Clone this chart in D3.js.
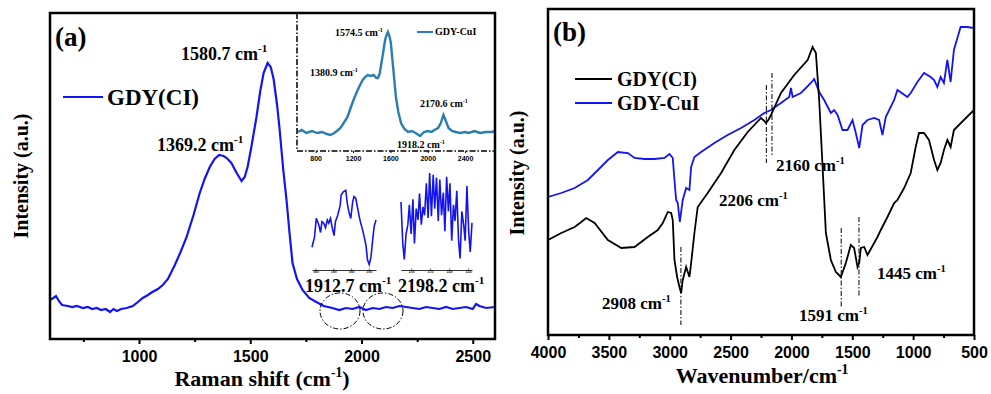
<!DOCTYPE html>
<html>
<head>
<meta charset="utf-8">
<script src="https://cdn.jsdelivr.net/npm/d3@7"></script>
<style>
  body { margin: 0; background: #fff; }
  svg { display: block; font-family: "Liberation Serif", "Times New Roman", serif; font-weight: bold; }
</style>
</head>
<body>
<div id="chart"></div>
<script>
// ---- data ----
// (a) Raman, GDY(CI): [shift, intensity]
const ramanGdyCl = [[600,39],[615,41],[627,43],[640,38],[654,34],[680,33],[700,32],[720,33],[748,31],[770,32],[790,30],[810,31],[830,29],[850,30],[870,27],[885,30],[900,28],[920,30],[945,31],[972,33],[995,37],[1017,41],[1040,44],[1060,47],[1085,50],[1107,54],[1130,60],[1161,74],[1185,86],[1214,102],[1245,124],[1273,146],[1295,160],[1318,172],[1340,180],[1360,184],[1380,183],[1394,181],[1415,176],[1439,166],[1461,158],[1475,162],[1488,172],[1505,192],[1528,222],[1545,248],[1560,266],[1578,276],[1592,272],[1605,260],[1620,235],[1631,212],[1648,170],[1663,139],[1677,105],[1690,76],[1710,60],[1735,49],[1765,41],[1797,37],[1830,33],[1869,31],[1900,29],[1930,31],[1960,30],[1990,32],[2020,29],[2050,31],[2080,30],[2110,32],[2140,31],[2170,33],[2200,32],[2230,31],[2260,30],[2290,32],[2320,31],[2350,30],[2380,32],[2410,30],[2440,31],[2470,32],[2500,30],[2515,35],[2530,33],[2560,31],[2600,32]];
// (a) inset, GDY-CuI
const ramanGdyCuI = [[611,8],[650,10],[700,7],[760,9],[816,7],[870,8],[920,6],[957,5],[1000,7],[1040,10],[1065,12],[1100,17],[1141,23],[1170,31],[1205,40],[1240,48],[1270,54],[1303,60],[1330,63],[1357,65],[1390,64],[1420,65],[1450,62],[1465,62],[1485,66],[1497,73],[1520,86],[1540,98],[1551,103],[1565,106],[1573,108],[1590,104],[1605,97],[1620,82],[1640,62],[1659,43],[1685,28],[1714,17],[1750,11],[1789,8],[1830,9],[1870,7],[1918,4],[1960,8],[2000,9],[2040,8],[2070,10],[2110,12],[2140,17],[2168,25],[2190,20],[2222,12],[2260,9],[2300,8],[2350,7],[2400,8],[2438,7],[2500,9],[2560,7],[2620,8],[2686,8],[2720,9]];
// (a) zoomed pieces round 1912.7 and 2198.2
const zoom1912 = [[1840,24],[1847,37],[1852,61],[1859,53],[1864,43],[1868,57],[1873,55],[1878,49],[1883,59],[1887,55],[1892,61],[1897,49],[1902,39],[1906,57],[1911,63],[1919,77],[1922,91],[1928,95],[1935,97],[1939,81],[1944,69],[1949,61],[1954,81],[1958,89],[1963,87],[1968,75],[1973,63],[1977,55],[1982,47],[1987,37],[1992,26],[1996,8],[2001,2],[2006,12],[2011,35],[2015,51],[2020,59]];
const zoom2198 = [[2060,68],[2067,24],[2073,7],[2080,34],[2087,44],[2093,65],[2100,34],[2107,71],[2113,24],[2120,61],[2127,49],[2133,77],[2140,44],[2147,63],[2153,54],[2160,88],[2167,51],[2173,99],[2180,53],[2187,97],[2193,61],[2200,94],[2207,48],[2213,92],[2220,54],[2227,78],[2233,37],[2240,95],[2247,58],[2253,88],[2260,27],[2267,65],[2273,48],[2280,80],[2287,27],[2293,8],[2300,58],[2307,44],[2313,27],[2320,85],[2327,37],[2333,15],[2340,46]];
// (b) IR: [wavenumber, intensity]
const irGdyCl = [[4000,95],[3891,102],[3781,108],[3727,113],[3686,117],[3617,112],[3508,95],[3398,87],[3289,88],[3180,98],[3098,105],[3057,112],[3016,123],[2988,122],[2975,115],[2961,75],[2939,58],[2920,48],[2906,42],[2893,55],[2865,68],[2838,58],[2824,72],[2797,102],[2770,128],[2688,142],[2578,162],[2469,185],[2359,203],[2250,217],[2223,214],[2209,212],[2190,215],[2168,220],[2086,242],[1977,260],[1867,275],[1826,288],[1799,282],[1772,235],[1744,168],[1717,102],[1676,75],[1635,63],[1594,58],[1553,72],[1512,90],[1485,87],[1457,68],[1443,72],[1430,87],[1402,88],[1375,80],[1293,98],[1266,105],[1211,118],[1156,132],[1129,135],[1074,147],[1020,162],[979,188],[952,202],[911,202],[870,195],[828,175],[801,165],[774,172],[747,185],[719,195],[692,188],[665,205],[583,215],[500,225]];
const irGdyCuI = [[4000,138],[3891,142],[3781,147],[3672,155],[3590,165],[3508,175],[3426,183],[3344,182],[3289,177],[3207,176],[3125,176],[3043,177],[3002,181],[2975,177],[2961,155],[2947,135],[2934,132],[2917,113],[2893,135],[2865,147],[2838,145],[2824,168],[2797,178],[2742,183],[2633,192],[2524,200],[2414,207],[2305,215],[2223,222],[2168,225],[2086,232],[2018,238],[2004,247],[1990,238],[1922,242],[1840,252],[1813,256],[1772,243],[1731,235],[1676,222],[1649,225],[1621,220],[1580,205],[1539,205],[1498,215],[1471,202],[1443,187],[1416,210],[1375,215],[1320,217],[1280,215],[1252,200],[1225,218],[1156,235],[1129,245],[1047,238],[1020,242],[965,253],[911,262],[856,258],[828,255],[801,248],[774,258],[747,252],[719,275],[692,253],[665,285],[610,308],[555,308],[500,307]];
// peak markers in (b): [wavenumber, from, to]
const irMarkers = [[2908,88,10],[2206,250,172],[2160,262,178],[1591,107,27],[1445,118,38]];
const ticksA = [1000, 1500, 2000, 2500];
const minorA = [750, 1250, 1750, 2250];
const ticksInset = [800, 1200, 1600, 2000, 2400];
const ticksZoom1912 = [1850, 1900, 1950, 2000];
const ticksZoom2198 = [2100, 2175, 2250, 2325];
const ticksB = [4000, 3500, 3000, 2500, 2000, 1500, 1000, 500];
const minorB = [3750, 3250, 2750, 2250, 1750, 1250, 750];

const svg = d3.select('#chart').append('svg').attr('width', 991).attr('height', 394);
svg.append('rect').attr('width', 991).attr('height', 394).attr('fill', '#fff');

// text with a "-1" superscript
function label(g, x, y, txt, size, sup, anchor) {
  const t = g.append('text').attr('x', x).attr('y', y).attr('font-size', size)
    .attr('text-anchor', anchor || 'start').text(txt);
  if (sup) {
    t.append('tspan').attr('font-size', size * 0.62).attr('dy', -size * 0.42).text(sup);
  }
  return t;
}

function bottomAxis(g, x, y0, major, minor, fsize) {
  const ax = g.append('g').attr('transform', 'translate(0,' + y0 + ')')
    .call(d3.axisBottom(x).tickValues(major).tickFormat(d3.format('d')).tickSize(5).tickSizeOuter(0).tickPadding(7));
  ax.select('.domain').remove();
  ax.selectAll('line').attr('stroke-width', 2);
  ax.selectAll('text').attr('font-size', fsize).attr('font-family', null).attr('fill', '#000');
  const mi = g.append('g').attr('transform', 'translate(0,' + y0 + ')')
    .call(d3.axisBottom(x).tickValues(minor).tickSize(3).tickFormat(''));
  mi.select('.domain').remove();
  mi.selectAll('line').attr('stroke-width', 2);
}

// ================= panel (a) =================
const a = {l: 50, r: 495, t: 13, b: 339};
const xA = d3.scaleLinear().domain([600, 2600]).range([a.l, a.r]);
const yA = d3.scaleLinear().domain([0, 326]).range([a.b, a.t]);
const ga = svg.append('g');

ga.append('path').datum(ramanGdyCl)
  .attr('d', d3.line().x(d => xA(d[0])).y(d => yA(d[1])))
  .attr('fill', 'none').attr('stroke', '#1414f0').attr('stroke-width', 2.2);

// inset
const xIn = d3.scaleLinear().domain([600, 2720]).range([297, a.r]);
const yIn = d3.scaleLinear().domain([0, 120]).range([140, 20]);
ga.append('path').datum(ramanGdyCuI)
  .attr('d', d3.line().x(d => xIn(d[0])).y(d => yIn(d[1])))
  .attr('fill', 'none').attr('stroke', '#2a7db0').attr('stroke-width', 2.4);
ga.append('line').attr('x1', 297).attr('x2', 297).attr('y1', a.t).attr('y2', 151)
  .attr('stroke', '#000').attr('stroke-width', 1.5).attr('stroke-dasharray', '6,2,1.5,2');
ga.append('line').attr('x1', 297).attr('x2', a.r).attr('y1', 151).attr('y2', 151)
  .attr('stroke', '#000').attr('stroke-width', 1.5).attr('stroke-dasharray', '6,2,1.5,2');
const inAx = ga.append('g').attr('transform', 'translate(0,151)')
  .call(d3.axisBottom(xIn).tickValues(ticksInset).tickFormat(d3.format('d')).tickSize(2).tickSizeOuter(0).tickPadding(3));
inAx.select('.domain').remove();
inAx.selectAll('text').attr('font-size', 7).attr('font-family', null);
ga.append('line').attr('x1', 417).attr('x2', 433).attr('y1', 32).attr('y2', 32)
  .attr('stroke', '#2a7db0').attr('stroke-width', 2);
label(ga, 435, 35, 'GDY-CuI', 10);
label(ga, 335, 36, '1574.5 cm', 10, '-1');
label(ga, 310, 76, '1380.9 cm', 10, '-1');
label(ga, 420, 107, '2170.6 cm', 10, '-1');
label(ga, 397, 148, '1918.2 cm', 10, '-1');

// zoomed pieces
function piece(data, dom, x0, x1, yTop, tickVals) {
  const x = d3.scaleLinear().domain(dom).range([x0, x1]);
  const y = d3.scaleLinear().domain([0, 100]).range([266, yTop]);
  ga.append('path').datum(data)
    .attr('d', d3.line().x(d => x(d[0])).y(d => y(d[1])))
    .attr('fill', 'none').attr('stroke', '#1414f0').attr('stroke-width', 1.6);
  const ax = ga.append('g').attr('transform', 'translate(0,270)')
    .call(d3.axisBottom(x).tickValues(tickVals).tickFormat(d3.format('d')).tickSize(-1.5).tickSizeOuter(0).tickPadding(1));
  ax.select('.domain').attr('stroke-width', 0.8);
  ax.selectAll('line').attr('stroke-width', 0.6);
  ax.selectAll('text').attr('font-size', 2.6).attr('font-family', null);
}
piece(zoom1912, [1840, 2020], 312, 376, 188, ticksZoom1912);
piece(zoom2198, [2060, 2340], 401, 472, 172, ticksZoom2198);
label(ga, 305, 292, '1912.7 cm', 18, '-1');
label(ga, 398, 292, '2198.2 cm', 18, '-1');

// dash-dot circles
[[340, 311], [383, 311]].forEach(c => {
  ga.append('ellipse').attr('cx', c[0]).attr('cy', c[1]).attr('rx', 20).attr('ry', 18)
    .attr('fill', 'none').attr('stroke', '#000').attr('stroke-width', 1)
    .attr('stroke-dasharray', '5,2,1.5,2');
});

label(ga, 181, 60, '1580.7 cm', 18, '-1');
label(ga, 157, 151, '1369.2 cm', 18, '-1');
label(ga, 55, 46, '(a)', 27);
ga.append('line').attr('x1', 63).attr('x2', 103).attr('y1', 97).attr('y2', 97)
  .attr('stroke', '#1414f0').attr('stroke-width', 2.2);
label(ga, 107, 105, 'GDY(CI)', 23);

ga.append('rect').attr('x', a.l).attr('y', a.t).attr('width', a.r - a.l).attr('height', a.b - a.t)
  .attr('fill', 'none').attr('stroke', '#000').attr('stroke-width', 2.5);
bottomAxis(ga, xA, a.b, ticksA, minorA, 16);
label(ga, 262, 386, 'Raman shift (cm', 22, '-1', 'middle').append('tspan').attr('dy', 22 * 0.42).text(')');
ga.append('text').attr('transform', 'translate(28,176) rotate(-90)').attr('text-anchor', 'middle')
  .attr('font-size', 20).text('Intensity (a.u.)');

// ================= panel (b) =================
const b = {l: 548, r: 974, t: 9, b: 335};
const xB = d3.scaleLinear().domain([4000, 500]).range([b.l, b.r]);
const yB = d3.scaleLinear().domain([0, 326]).range([b.b, b.t]);
const gb = svg.append('g');
const lineB = d3.line().x(d => xB(d[0])).y(d => yB(d[1]));

gb.append('path').datum(irGdyCuI).attr('d', lineB)
  .attr('fill', 'none').attr('stroke', '#1414f0').attr('stroke-width', 1.8);
gb.append('path').datum(irGdyCl).attr('d', lineB)
  .attr('fill', 'none').attr('stroke', '#000').attr('stroke-width', 1.8);

irMarkers.forEach(m => {
  gb.append('line').attr('x1', xB(m[0])).attr('x2', xB(m[0])).attr('y1', yB(m[1])).attr('y2', yB(m[2]))
    .attr('stroke', '#000').attr('stroke-width', 1).attr('stroke-dasharray', '5,2,1.5,2');
});

label(gb, 602, 309, '2908 cm', 17, '-1');
label(gb, 719, 206, '2206 cm', 17, '-1');
label(gb, 776, 171, '2160 cm', 17, '-1');
label(gb, 799, 321, '1591 cm', 17, '-1');
label(gb, 877, 279, '1445 cm', 17, '-1');

label(gb, 553, 41, '(b)', 27);
gb.append('line').attr('x1', 575).attr('x2', 612).attr('y1', 79).attr('y2', 79)
  .attr('stroke', '#000').attr('stroke-width', 2);
label(gb, 617, 86, 'GDY(CI)', 20);
gb.append('line').attr('x1', 575).attr('x2', 612).attr('y1', 103).attr('y2', 103)
  .attr('stroke', '#1414f0').attr('stroke-width', 2);
label(gb, 617, 110, 'GDY-CuI', 20);

gb.append('rect').attr('x', b.l).attr('y', b.t).attr('width', b.r - b.l).attr('height', b.b - b.t)
  .attr('fill', 'none').attr('stroke', '#000').attr('stroke-width', 2.5);
bottomAxis(gb, xB, b.b, ticksB, minorB, 16);
label(gb, 762, 383, 'Wavenumber/cm', 22, '-1', 'middle');
gb.append('text').attr('transform', 'translate(524,173) rotate(-90)').attr('text-anchor', 'middle')
  .attr('font-size', 20).text('Intensity (a.u.)');
</script>
</body>
</html>
